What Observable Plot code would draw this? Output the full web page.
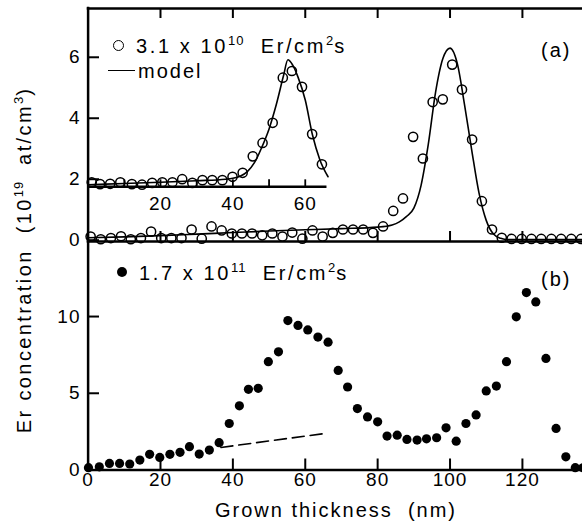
<!DOCTYPE html>
<html><head><meta charset="utf-8">
<script src="https://cdn.jsdelivr.net/npm/d3@7"></script>
<script src="https://cdn.jsdelivr.net/npm/@observablehq/plot@0.6"></script>
<style>
body{margin:0;background:#fff;}
#chart{position:relative;width:582px;height:527px;overflow:hidden;background:#fff;font-family:"Liberation Sans",Arial,sans-serif;color:#000;}
#chart svg{position:absolute;left:0;top:0;}
.lbl{position:absolute;white-space:pre;font-size:20px;line-height:20px;letter-spacing:2px;}
.sup{font-size:13px;position:relative;top:-8px;letter-spacing:1px;}
.ocirc{position:absolute;width:9px;height:9px;border:1.6px solid #000;border-radius:50%;}
.fcirc{position:absolute;width:10px;height:10px;background:#000;border-radius:50%;}
.lline{position:absolute;height:0;border-top:1.6px solid #000;}
</style></head><body><div id="chart"></div>
<script>
// ---------- data ----------
const xTicks = [20, 40, 60, 80, 100, 120];
const xTickLabels = [0, 20, 40, 60, 80, 100, 120];
const yTicksA = [0, 2, 4, 6];
const yTicksB = [0, 5, 10];
const insetTicks = [10, 20, 30, 40, 50, 60];
const insetTickLabels = [20, 40, 60];
const insetAxisConc = [1.75];
const insetAxisSpan = [0, 66];

// panel (a): 3.1e10 Er/cm2s, open circles
const aThickness = [0.7,3.5,6.3,9.1,11.8,14.6,17.4,20.2,23.0,25.8,28.6,31.4,34.1,36.9,39.7,42.5,45.3,48.1,50.9,53.7,56.4,59.2,62.0,64.8,67.6,70.4,73.2,76.0,78.7,81.5,84.3,87.0,89.8,92.5,95.2,98.0,100.6,103.3,106.1,108.8,111.6,114.3,117.0,119.8,122.5,125.2,128.0,130.7,133.5,136.2];
const aConc = [0.12,0.03,0.07,0.13,0.03,0.07,0.28,0.07,0.07,0.07,0.35,0.05,0.45,0.32,0.22,0.22,0.22,0.16,0.22,0.12,0.25,0.05,0.32,0.12,0.24,0.35,0.35,0.35,0.24,0.45,0.96,1.37,3.39,2.68,4.53,4.62,5.76,4.94,3.30,1.28,0.35,0.08,0.04,0.04,0.04,0.04,0.04,0.04,0.04,0.04];
const aModelThickness = [0,10,20,30,40,50,60,70,80,84,86,88,90,92,94,96,98,100,102,104,106,108,110,112,114,116,136.6];
const aModelConc = [0.08,0.11,0.15,0.2,0.25,0.3,0.34,0.38,0.43,0.5,0.6,0.78,1.05,1.8,3.15,4.85,5.95,6.3,5.8,4.45,2.95,1.55,0.65,0.2,0.06,0.02,0.02];

// inset of panel (a)
const insetThickness = [1.0,3.3,6.1,8.9,12.1,14.9,17.7,20.5,23.3,26.0,28.8,31.6,34.3,37.1,39.9,42.7,45.5,48.2,51.0,53.8,56.3,59.1,61.9,64.6];
const insetConc = [1.9,1.84,1.85,1.9,1.84,1.82,1.88,1.9,1.9,2.0,1.88,1.97,1.97,1.97,2.08,2.21,2.75,3.19,3.85,5.33,5.55,5.03,3.48,2.49];
const insetModelThickness = [0,10,20,30,38,42,44,46,48,50,52,54,55.2,56.5,58,60,62,64,66.3];
const insetModelConc = [1.82,1.86,1.9,1.95,2.0,2.1,2.25,2.55,3.05,3.65,4.45,5.4,5.92,5.75,5.35,4.6,3.45,2.65,2.08];

// panel (b): 1.7e11 Er/cm2s, filled dots
const bThickness = [0.1,3.1,5.9,8.7,11.5,14.3,17.0,19.8,22.6,25.4,28.0,30.7,33.5,36.2,39.0,41.8,44.3,47.0,49.8,52.6,55.2,58.0,60.7,63.5,66.3,69.1,71.7,74.4,77.2,80.0,82.6,85.4,88.1,90.9,93.5,96.3,98.9,101.7,104.4,107.2,110.0,112.8,115.6,118.3,121.1,123.7,126.5,129.3,132.0,134.6,136.7];
const bConc = [0.15,0.21,0.43,0.43,0.39,0.65,1.02,0.82,1.02,1.15,1.52,1.04,1.3,1.78,3.03,4.18,5.26,5.32,7.06,7.7,9.74,9.42,9.13,8.66,8.33,6.49,5.41,4.0,3.46,3.14,2.21,2.27,1.99,1.95,2.03,2.1,2.75,1.88,3.03,3.59,5.15,5.47,7.06,9.98,11.56,10.95,7.27,2.71,0.86,0.15,0.15];
const bTrendThickness = [36.7, 65.4];
const bTrendConc = [1.47, 2.38];

// ---------- layout ----------
const W = 582, H = 527;
const A_TOP = 8, A_BOT = 241, B_BOT = 469.5, LEFT = 88;
const xDomain = [0, 136.6], xRange = [87.6, 582];
const yDomA = [-0.043, 7.6], yDomB = [0, 14.89];
const font = "'Liberation Sans', Arial, sans-serif";
const zip = (xs, ys) => xs.map((x, i) => ({x, y: ys[i]}));
const tickLen = 10;
const styleObj = {background: "transparent", overflow: "visible", fontFamily: font, fontSize: "19px", letterSpacing: "1px", color: "black"};

const plotA = Plot.plot({
  width: W, height: H,
  marginLeft: LEFT, marginRight: 0, marginTop: A_TOP, marginBottom: H - A_BOT,
  x: {domain: xDomain, range: xRange, axis: null},
  y: {domain: yDomA, range: [A_BOT, A_TOP], axis: null},
  style: styleObj,
  marks: [
    Plot.ruleY([yDomA[1]], {stroke: "black", strokeWidth: 2.5, strokeLinecap: "square"}),
    Plot.ruleX([0], {stroke: "black", strokeWidth: 2.5, strokeLinecap: "square"}),
    Plot.tickX(xTicks, {x: d => d, insetBottom: (A_BOT - A_TOP) - tickLen, strokeWidth: 2}),
    Plot.tickX(xTicks, {x: d => d, insetTop: (A_BOT - A_TOP) - tickLen, strokeWidth: 2}),
    Plot.tickY(yTicksA, {y: d => d, insetRight: (W - LEFT) - 11, strokeWidth: 2}),
    Plot.text(yTicksA, {y: d => d, frameAnchor: "left", textAnchor: "end", dx: -8}),
    // inset axis
    Plot.ruleY(insetAxisConc, {y: d => d, x1: insetAxisSpan[0], x2: insetAxisSpan[1], stroke: "black", strokeWidth: 2.5}),
    Plot.ruleX(insetTicks, {x: d => d, y1: insetAxisConc[0], y2: insetAxisConc[0] + 7 / 30.5, strokeWidth: 1.8}),
    Plot.text(insetTickLabels, {x: d => d, y: insetAxisConc[0], dy: 17}),
    // inset data
    Plot.line(zip(insetModelThickness, insetModelConc), {x: "x", y: "y", curve: "monotone-x", stroke: "black", strokeWidth: 1.6}),
    Plot.dot(zip(insetThickness, insetConc), {x: "x", y: "y", r: 4.6, stroke: "black", strokeWidth: 1.5, fill: "none"}),
    // main data
    Plot.line(zip(aModelThickness, aModelConc), {x: "x", y: "y", curve: "monotone-x", stroke: "black", strokeWidth: 1.6}),
    Plot.dot(zip(aThickness, aConc), {x: "x", y: "y", r: 4.6, stroke: "black", strokeWidth: 1.5, fill: "none"})
  ]
});

const plotB = Plot.plot({
  width: W, height: H,
  marginLeft: LEFT, marginRight: 0, marginTop: A_BOT, marginBottom: H - B_BOT,
  x: {domain: xDomain, range: xRange, axis: null},
  y: {domain: yDomB, range: [B_BOT, A_BOT], axis: null},
  style: styleObj,
  marks: [
    Plot.ruleY([yDomB[1]], {stroke: "black", strokeWidth: 2.5, strokeLinecap: "square"}),
    Plot.ruleY([0], {stroke: "black", strokeWidth: 2.5, strokeLinecap: "square"}),
    Plot.ruleX([0], {stroke: "black", strokeWidth: 2.5, strokeLinecap: "square"}),
    Plot.tickX(xTicks, {x: d => d, insetTop: (B_BOT - A_BOT) - 11, strokeWidth: 2}),
    Plot.tickY(yTicksB, {y: d => d, insetRight: (W - LEFT) - 11, strokeWidth: 2}),
    Plot.text(yTicksB, {y: d => d, frameAnchor: "left", textAnchor: "end", dx: -8}),
    Plot.text(xTickLabels, {x: d => d, frameAnchor: "bottom", dy: 16}),
    Plot.line(zip(bTrendThickness, bTrendConc), {x: "x", y: "y", stroke: "black", strokeWidth: 1.6, strokeDasharray: "12,6"}),
    Plot.dot(zip(bThickness, bConc), {x: "x", y: "y", r: 4.6, fill: "black", stroke: "none"})
  ]
});

const chart = document.getElementById("chart");
chart.appendChild(plotB);
chart.appendChild(plotA);

// ---------- legends & titles (HTML text) ----------
function add(html, css, cls) {
  const d = document.createElement("div");
  if (cls) d.className = cls;
  d.innerHTML = html;
  Object.assign(d.style, css);
  chart.appendChild(d);
  return d;
}
add("", {left: "112.5px", top: "40px"}, "ocirc");
add('3.1 x 10<span class="sup">10</span>  Er/cm<span class="sup">2</span>s', {left: "136px", top: "36px", letterSpacing: "2.6px"}, "lbl");
add("", {left: "108px", top: "70px", width: "27px"}, "lline");
add("model", {left: "138px", top: "61px"}, "lbl");
add("(a)", {left: "541px", top: "40px"}, "lbl");
add("", {left: "116.5px", top: "267px"}, "fcirc");
add('1.7 x 10<span class="sup">11</span>  Er/cm<span class="sup">2</span>s', {left: "139px", top: "263px", letterSpacing: "2.6px"}, "lbl");
add("(b)", {left: "541px", top: "269px"}, "lbl");
add("Grown thickness  (nm)", {left: "336px", top: "500px", transform: "translateX(-50%)"}, "lbl");
add('Er concentration  (10<span class="sup">19</span>  at/cm<span class="sup">3</span>)', {left: "25px", top: "260px", transform: "translate(-50%,-50%) rotate(-90deg)", letterSpacing: "2.4px"}, "lbl");
</script></body></html>
